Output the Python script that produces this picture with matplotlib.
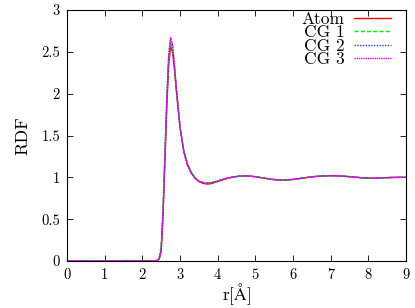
import matplotlib
matplotlib.use("Agg")
import matplotlib.pyplot as plt
from matplotlib.ticker import FuncFormatter

plt.rcParams['font.family'] = ['cmr10', 'DejaVu Serif']
plt.rcParams['mathtext.fontset'] = 'cm'
plt.rcParams['axes.formatter.use_mathtext'] = True

r = [0, 0.5, 1, 1.5, 2, 2.3, 2.4, 2.45, 2.5, 2.55, 2.6, 2.65, 2.7, 2.75, 2.8,
     2.85, 2.9, 2.95, 3.0, 3.1, 3.2, 3.3, 3.4, 3.5, 3.6, 3.7, 3.8, 3.9, 4.0,
     4.2, 4.4, 4.6, 4.8, 5.0, 5.2, 5.4, 5.6, 5.8, 6.0, 6.2, 6.4, 6.6, 6.8,
     7.0, 7.2, 7.4, 7.6, 7.8, 8.0, 8.2, 8.4, 8.6, 8.8, 9.0]

atom = [0, 0, 0, 0, 0, 0, 0.005, 0.03, 0.12, 0.55, 1.20, 1.85, 2.35, 2.56, 2.50,
        2.30, 2.05, 1.82, 1.60, 1.32, 1.16, 1.06, 0.99, 0.95, 0.93, 0.92,
        0.922, 0.935, 0.95, 0.98, 1.003, 1.015, 1.017, 1.008, 0.993, 0.978,
        0.968, 0.967, 0.975, 0.987, 1.0, 1.01, 1.017, 1.02, 1.018, 1.012,
        1.004, 0.996, 0.99, 0.99, 0.994, 0.998, 1.0, 1.0]

cg1 = [0, 0, 0, 0, 0, 0, 0.01, 0.05, 0.18, 0.65, 1.30, 1.95, 2.42, 2.62, 2.55,
       2.33, 2.07, 1.83, 1.60, 1.31, 1.15, 1.06, 0.995, 0.96, 0.94, 0.935,
       0.935, 0.945, 0.958, 0.985, 1.005, 1.015, 1.016, 1.007, 0.993, 0.979,
       0.969, 0.968, 0.975, 0.987, 1.0, 1.01, 1.016, 1.019, 1.017, 1.011,
       1.003, 0.996, 0.991, 0.99, 0.994, 0.998, 1.0, 1.0]

cg2 = [0, 0, 0, 0, 0, 0, 0.005, 0.03, 0.13, 0.58, 1.25, 1.92, 2.45, 2.66, 2.58,
       2.35, 2.08, 1.84, 1.60, 1.30, 1.14, 1.05, 0.99, 0.955, 0.938, 0.932,
       0.933, 0.943, 0.956, 0.984, 1.004, 1.015, 1.016, 1.007, 0.993, 0.979,
       0.969, 0.968, 0.975, 0.987, 1.0, 1.01, 1.016, 1.019, 1.017, 1.011,
       1.003, 0.996, 0.991, 0.99, 0.994, 0.998, 1.0, 1.0]

cg3 = [0, 0, 0, 0, 0, 0, 0.005, 0.03, 0.13, 0.58, 1.26, 1.93, 2.46, 2.67, 2.59,
       2.36, 2.09, 1.85, 1.61, 1.31, 1.14, 1.05, 0.99, 0.955, 0.937, 0.932,
       0.933, 0.943, 0.956, 0.984, 1.004, 1.015, 1.016, 1.007, 0.993, 0.979,
       0.969, 0.968, 0.975, 0.987, 1.0, 1.01, 1.016, 1.019, 1.017, 1.011,
       1.003, 0.996, 0.991, 0.99, 0.994, 0.998, 1.0, 1.0]

labels = ['Atom', 'CG 1', 'CG 2', 'CG 3']
xticks = [0, 1, 2, 3, 4, 5, 6, 7, 8, 9]
yticks = [0, 0.5, 1, 1.5, 2, 2.5, 3]

fig = plt.figure(figsize=(4.15, 3.08), dpi=100)
ax = fig.add_axes([67/415, 47/308, 339/415, 251/308])

ax.plot(r, atom, color='#ff0000', lw=1.0, ls='-', label=labels[0])
ax.plot(r, cg1, color='#00ee00', lw=1.0, ls=(0, (3, 1.5)), label=labels[1])
ax.plot(r, cg2, color='#3333ff', lw=1.0, ls=(0, (1, 1)), label=labels[2])
ax.plot(r, cg3, color='#ee00ee', lw=1.0, ls=(0, (1, 0.6)), label=labels[3])

ax.set_xlim(0, 9)
ax.set_ylim(0, 3)
ax.set_xticks(xticks)
ax.set_yticks(yticks)
ax.yaxis.set_major_formatter(FuncFormatter(lambda v, p: f"{v:g}"))
ax.xaxis.set_major_formatter(FuncFormatter(lambda v, p: f"{v:g}"))
ax.tick_params(direction='in', top=True, right=True, length=4, width=0.6,
               labelsize=10.5, pad=5)
for s in ax.spines.values():
    s.set_linewidth(0.8)

ax.set_xlabel(r'r[$\mathrm{\AA}$]', fontsize=12.5, labelpad=0)
ax.set_ylabel('RDF', fontsize=13, labelpad=8)

leg = ax.legend(loc='upper right', bbox_to_anchor=(0.955, 0.995),
                frameon=False, markerfirst=False,
                fontsize=12.5, handlelength=2.1, labelspacing=-0.1,
                handletextpad=0.55, borderaxespad=0.0, borderpad=0.0)

fig.savefig('out.png', dpi=100)
